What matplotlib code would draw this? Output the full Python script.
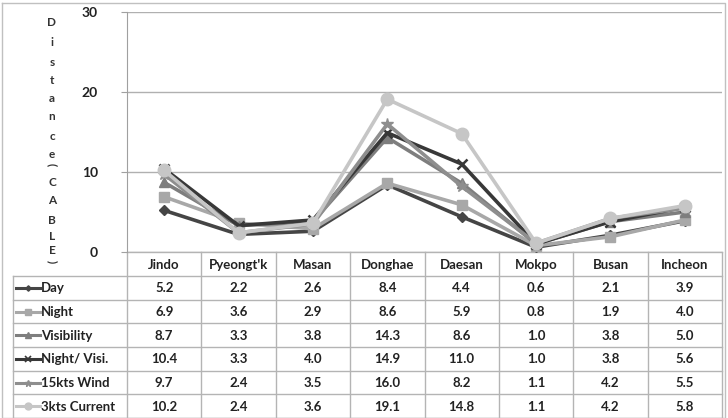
import matplotlib
matplotlib.use("Agg")
import matplotlib.pyplot as plt
from matplotlib.lines import Line2D

categories = ["Jindo", "Pyeongt'k", "Masan", "Donghae", "Daesan", "Mokpo", "Busan", "Incheon"]
series_names = ["Day", "Night", "Visibility", "Night/ Visi.", "15kts Wind", "3kts Current"]
day = [5.2, 2.2, 2.6, 8.4, 4.4, 0.6, 2.1, 3.9]
night = [6.9, 3.6, 2.9, 8.6, 5.9, 0.8, 1.9, 4.0]
visibility = [8.7, 3.3, 3.8, 14.3, 8.6, 1.0, 3.8, 5.0]
night_visi = [10.4, 3.3, 4.0, 14.9, 11.0, 1.0, 3.8, 5.6]
wind15 = [9.7, 2.4, 3.5, 16.0, 8.2, 1.1, 4.2, 5.5]
current3 = [10.2, 2.4, 3.6, 19.1, 14.8, 1.1, 4.2, 5.8]
yticks = [0, 10, 20, 30]
ylabel_text = "Distance(CABLE)"

series = [day, night, visibility, night_visi, wind15, current3]
colors = ["#454545", "#a8a8a8", "#7e7e7e", "#383838", "#8e8e8e", "#c6c6c6"]
markers = ["D", "s", "^", "x", "*", "o"]
msizes = [5, 7, 7, 7, 9, 9]

plt.rcParams['font.family'] = ['Lato', 'DejaVu Sans']
W, H = 728, 418
fig = plt.figure(figsize=(W / 100, H / 100), dpi=100)

# pixel overlay axes
ov = fig.add_axes([0, 0, 1, 1])
ov.set_xlim(0, W)
ov.set_ylim(H, 0)
ov.axis('off')

x_left, x_right = 127, 722
y_top, y_bot = 12, 252
n = len(categories)
colw = (x_right - x_left) / n

ax = fig.add_axes([x_left / W, (H - y_bot) / H, (x_right - x_left) / W, (y_bot - y_top) / H])
ax.set_xlim(-0.5, n - 0.5)
ax.set_ylim(0, 30)
ax.set_yticks(yticks)
ax.set_yticklabels([str(t) for t in yticks], fontsize=10, fontweight='bold', color='#222222')
ax.set_xticks([])
ax.grid(axis='y', color='#b0b0b0', linewidth=1)
for s in ['top', 'right', 'bottom']:
    ax.spines[s].set_visible(False)
ax.spines['left'].set_color('#a0a0a0')
ax.tick_params(axis='y', length=4, color='#a0a0a0', pad=17)
ax.patch.set_alpha(0)

xs = list(range(n))
for vals, c, m, ms in zip(series, colors, markers, msizes):
    ax.plot(xs, vals, color=c, linewidth=2.6, marker=m, markersize=ms,
            markeredgecolor=c, markerfacecolor=c, markeredgewidth=1.8 if m == 'x' else 1)

# vertical letter label
letters = list(ylabel_text)
ys = [22, 42, 62, 80, 98, 117, 137, 155, 165, 182, 200, 220, 237, 251, 262]
for ch, yy in zip(letters, ys):
    rot = 0
    if ch in "()":
        rot = -90
    ov.text(52, yy, ch, ha='center', va='center', fontsize=8.5, fontweight='bold',
            color='#333333', rotation=rot)

# table
line_c = '#b4b4b4'
row_top = 276
rowh = (418 - row_top) / len(series_names)
ov.plot([x_left, x_right], [y_bot, y_bot], color=line_c, lw=1)
ov.plot([13, x_right], [row_top, row_top], color=line_c, lw=1)
for k in range(1, len(series_names) + 1):
    yy = row_top + k * rowh
    ov.plot([13, x_right], [yy, yy], color=line_c, lw=1)
ov.plot([13, 13], [row_top, H], color=line_c, lw=1)
for i in range(n + 1):
    xx = x_left + i * colw
    ov.plot([xx, xx], [y_bot, H], color=line_c, lw=1)

for i, cat in enumerate(categories):
    ov.text(x_left + (i + 0.5) * colw, (y_bot + row_top) / 2 + 1, cat, ha='center', va='center',
            fontsize=9.5, fontweight='bold', color='#222222')

for r, (name, vals, c, m, ms) in enumerate(zip(series_names, series, colors, markers, msizes)):
    yc = row_top + (r + 0.5) * rowh
    ov.add_line(Line2D([16, 40], [yc, yc], color=c, lw=2.2))
    ov.plot([28], [yc], marker=m, color=c, markersize=ms * 0.55,
            markeredgewidth=1.2 if m == 'x' else 1)
    ov.text(41, yc + 0.5, name, ha='left', va='center', fontsize=9.5, fontweight='bold', color='#222222')
    for i, v in enumerate(vals):
        ov.text(x_left + (i + 0.5) * colw, yc + 0.5, f"{v:.1f}", ha='center', va='center',
                fontsize=9.5, fontweight='bold', color='#222222')

# outer frame
ov.plot([2, W - 3, W - 3, 2, 2], [3, 3, H, H, 3], color='#c0c0c0', lw=1)

fig.savefig("out.png", dpi=100)
